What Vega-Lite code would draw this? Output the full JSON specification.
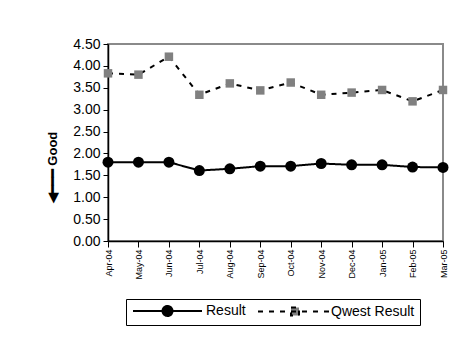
{
  "$schema": "https://vega.github.io/schema/vega-lite/v6.json",
  "width": 335,
  "height": 197,
  "autosize": "none",
  "padding": {"left": 108, "top": 44, "right": 32, "bottom": 104},
  "background": "white",
  "config": {
    "font": "Liberation Sans",
    "view": {"stroke": "#8a8a8a", "strokeWidth": 2},
    "axis": {"grid": false, "domainColor": "black", "tickColor": "black", "labelColor": "black", "titleColor": "black", "domainWidth": 1.5, "tickWidth": 1}
  },
  "data": {
    "values": [
      {"month": "Apr-04", "series": "Result", "value": 1.80},
      {"month": "May-04", "series": "Result", "value": 1.80},
      {"month": "Jun-04", "series": "Result", "value": 1.80},
      {"month": "Jul-04", "series": "Result", "value": 1.61},
      {"month": "Aug-04", "series": "Result", "value": 1.65},
      {"month": "Sep-04", "series": "Result", "value": 1.71},
      {"month": "Oct-04", "series": "Result", "value": 1.71},
      {"month": "Nov-04", "series": "Result", "value": 1.77},
      {"month": "Dec-04", "series": "Result", "value": 1.74},
      {"month": "Jan-05", "series": "Result", "value": 1.74},
      {"month": "Feb-05", "series": "Result", "value": 1.69},
      {"month": "Mar-05", "series": "Result", "value": 1.68},
      {"month": "Apr-04", "series": "Qwest Result", "value": 3.83},
      {"month": "May-04", "series": "Qwest Result", "value": 3.80},
      {"month": "Jun-04", "series": "Qwest Result", "value": 4.21},
      {"month": "Jul-04", "series": "Qwest Result", "value": 3.34},
      {"month": "Aug-04", "series": "Qwest Result", "value": 3.60},
      {"month": "Sep-04", "series": "Qwest Result", "value": 3.44},
      {"month": "Oct-04", "series": "Qwest Result", "value": 3.62},
      {"month": "Nov-04", "series": "Qwest Result", "value": 3.34},
      {"month": "Dec-04", "series": "Qwest Result", "value": 3.39},
      {"month": "Jan-05", "series": "Qwest Result", "value": 3.45},
      {"month": "Feb-05", "series": "Qwest Result", "value": 3.19},
      {"month": "Mar-05", "series": "Qwest Result", "value": 3.45}
    ]
  },
  "encoding": {
    "x": {
      "field": "month", "type": "nominal", "sort": null,
      "scale": {"type": "point", "padding": 0},
      "axis": {"title": null, "labelAngle": -90, "labelFontSize": 9, "tickSize": 6, "labelPadding": 2}
    },
    "y": {
      "field": "value", "type": "quantitative",
      "scale": {"domain": [0, 4.5], "nice": false, "zero": true},
      "axis": {
        "values": [0, 0.5, 1, 1.5, 2, 2.5, 3, 3.5, 4, 4.5],
        "format": ".2f", "labelFontSize": 14, "tickSize": 5, "labelPadding": 3,
        "title": "◀━━━ Good", "titleFontSize": 13, "titleFontWeight": "bold",
        "titleAngle": -90, "titleX": -56, "titleY": 123, "titleAlign": "center", "titleBaseline": "middle"
      }
    }
  },
  "layer": [
    {
      "mark": {"type": "line", "strokeWidth": 2},
      "encoding": {
        "detail": {"field": "series"},
        "stroke": {
          "field": "series", "type": "nominal",
          "scale": {"domain": ["Result", "Qwest Result"], "range": ["black", "black"]},
          "legend": {
            "title": null, "orient": "none", "legendX": 18, "legendY": 255,
            "direction": "horizontal", "strokeColor": "black", "fillColor": "white",
            "padding": 5, "labelFontSize": 14, "labelColor": "black", "labelOffset": 61,
            "symbolSize": 100, "symbolStrokeWidth": 2, "columnPadding": 8,
            "encode": {
              "symbols": {
                "update": {
                  "shape": {"signal": "datum.value == 'Result' ? 'M-1,0H12.8M4.9,0A1,1,0,1,1,6.9,0A1,1,0,1,1,4.9,0Z' : 'M-1,0H13.8M5.6,-0.8H7.2V0.8H5.6Z'"},
                  "fill": {"signal": "datum.value == 'Result' ? 'black' : '#808080'"},
                  "stroke": {"value": "black"},
                  "strokeDash": {"signal": "datum.value == 'Result' ? [1,0] : [5,6]"},
                  "opacity": {"value": 1},
                  "fillOpacity": {"value": 1}
                }
              }
            }
          }
        },
        "strokeDash": {
          "condition": {"test": "datum.series == 'Result'", "value": [1, 0]},
          "value": [5, 6]
        }
      }
    },
    {
      "mark": {"type": "point", "filled": true, "opacity": 1},
      "encoding": {
        "shape": {"condition": {"test": "datum.series == 'Result'", "value": "circle"}, "value": "square"},
        "fill": {"condition": {"test": "datum.series == 'Result'", "value": "black"}, "value": "#808080"},
        "size": {"condition": {"test": "datum.series == 'Result'", "value": 121}, "value": 72}
      }
    }
  ]
}
